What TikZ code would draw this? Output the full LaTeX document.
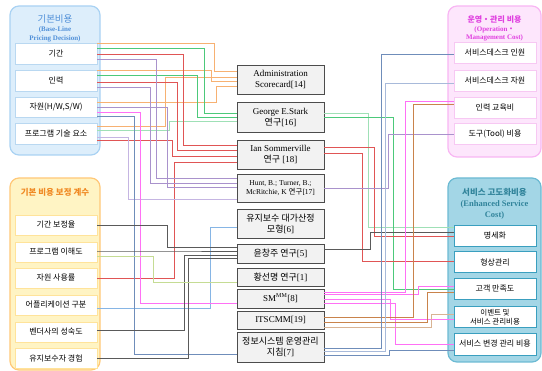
\documentclass[tikz,border=0pt]{standalone}
\usepackage{fontspec}
\setmainfont{Liberation Serif}
\newfontfamily\kr{Noto Sans CJK KR}
\usetikzlibrary{positioning,calc,shadows}

% group colours
\definecolor{basefill}{HTML}{DDEEFB}
\definecolor{baseedge}{HTML}{A9D2F3}
\definecolor{basetitle}{HTML}{4F8FD8}
\definecolor{baseitem}{HTML}{B9D8F1}
\definecolor{adjfill}{HTML}{FFF4C4}
\definecolor{adjedge}{HTML}{FFC878}
\definecolor{adjtitle}{HTML}{F08A24}
\definecolor{adjitem}{HTML}{FFE39A}
\definecolor{operfill}{HTML}{FDE6FC}
\definecolor{operedge}{HTML}{F8B6F3}
\definecolor{opertitle}{HTML}{E040E0}
\definecolor{operitem}{HTML}{F7C8F3}
\definecolor{enhfill}{HTML}{A3D6E6}
\definecolor{enhedge}{HTML}{6CBAD3}
\definecolor{enhtitle}{HTML}{31849B}
\definecolor{enhitem}{HTML}{3A9FBF}
% wire colours
\definecolor{corange}{HTML}{F7B172}
\definecolor{cgreen}{HTML}{4CC97A}
\definecolor{clgreen}{HTML}{9FE0B6}
\definecolor{cred}{HTML}{E05555}
\definecolor{cpurple}{HTML}{A992CC}
\definecolor{clpurple}{HTML}{C5B5E2}
\definecolor{cmagenta}{HTML}{FF70F5}
\definecolor{cslate}{HTML}{6F8DBA}
\definecolor{clslate}{HTML}{A8BADA}
\definecolor{cgray}{HTML}{5A5A5A}
\definecolor{clblue}{HTML}{86B5E5}
\definecolor{cygreen}{HTML}{C5DC94}
\definecolor{cbrown}{HTML}{C9834B}
\definecolor{ctan}{HTML}{D9B393}

\tikzset
{
    group/.style    = {rectangle, rounded corners=9pt, line width=1.2pt, minimum width=90pt},
    grouptitle/.style = {inner sep=0pt, align=center},
    subtitle/.style = {inner sep=0pt, align=center, font=\bfseries\fontsize{7}{9}\selectfont},
    itembox/.style  = {rectangle, draw=#1, fill=white, line width=0.8pt, minimum width=82pt, minimum height=21pt, inner sep=1pt, align=center, font=\kr\fontsize{8}{9}\selectfont},
    study/.style    = {rectangle, draw=black!70, fill=black!5, line width=0.8pt, minimum width=87pt, inner sep=1pt, align=center, drop shadow={shadow xshift=1pt, shadow yshift=-1pt, fill=black!30}, font=\fontsize{9}{11}\selectfont},
    wire/.style     = {line width=0.9pt}
}

% wire: colour, source, offset, x of the riser, target, offset
\newcommand\costwire[6]{%
    \coordinate (wp) at ($(#2.east)+(0,#3)$);
    \coordinate (wq) at ($(#5.west)+(0,#6)$);
    \coordinate (wx) at (#4,0);
    \draw[wire,#1] (wp) -- (wp -| wx) |- (wq);}

\begin{document}
\begin{tikzpicture}[x=1pt, y=-1pt]
    \useasboundingbox (0,0) rectangle (542,371);

    % groups
    \node[group, draw=baseedge, fill=basefill, minimum height=149pt] (gbase) at (55,80.5) {};
    \node[group, draw=adjedge, fill=adjfill, minimum height=192pt] (gadj) at (55,274) {};
    \node[group, draw=operedge, fill=operfill, minimum width=93pt, minimum height=151pt] (goper) at (494.5,81.5) {};
    \node[group, draw=enhedge, fill=enhfill, minimum width=93pt, minimum height=184pt] (genh) at (494.5,270) {};

    \node[grouptitle, text=basetitle, font=\kr\fontsize{9.5}{10}\selectfont] (tbase) at (55,19) {기본비용};
    \node[subtitle, text=basetitle] (sbase) at (55,34.5) {(Base-Line\\Pricing Decision)};
    \node[grouptitle, text=adjtitle, font=\kr\bfseries\fontsize{8.5}{9}\selectfont] (tadj) at (55,192) {기본 비용 보정 계수};
    \node[grouptitle, text=opertitle, font=\kr\bfseries\fontsize{8}{9}\selectfont] (toper) at (494.5,20) {운영・관리 비용};
    \node[subtitle, text=opertitle, font=\bfseries\fontsize{7}{8}\selectfont] (soper) at (494.5,34) {(Operation{\kr ・}\\Management Cost)};
    \node[grouptitle, text=enhtitle, font=\kr\bfseries\fontsize{8.5}{10}\selectfont] (tenh) at (494.5,192) {서비스 고도화비용};
    \node[subtitle, text=enhtitle, font=\bfseries\fontsize{8.5}{11}\selectfont] (senh) at (494.5,209.5) {(Enhanced Service\\Cost)};

    % base cost items
    \node[itembox=baseitem] (bperiod) at (56,54) {기간};
    \node[itembox=baseitem] (bstaff) at (56,81) {인력};
    \node[itembox=baseitem, minimum height=20pt] (bres) at (56,107) {자원(H/W,S/W)};
    \node[itembox=baseitem] (bprog) at (56,134) {프로그램 기술 요소};

    % adjustment items
    \node[itembox=adjitem, minimum height=20pt] (aperiod) at (56,225) {기간 보정율};
    \node[itembox=adjitem, minimum height=20pt] (aprog) at (56,252) {프로그램 이해도};
    \node[itembox=adjitem, minimum height=20pt] (ares) at (56,278) {자원 사용률};
    \node[itembox=adjitem, minimum height=20pt] (aapp) at (56,305) {어플리케이션 구분};
    \node[itembox=adjitem, minimum height=20pt] (avendor) at (56,332) {벤더사의 성숙도};
    \node[itembox=adjitem, minimum height=20pt] (aexp) at (56,358) {유지보수자 경험};

    % operation items
    \node[itembox=operitem] (odeskstaff) at (495,53) {서비스데스크 인원};
    \node[itembox=operitem] (odeskres) at (495,81) {서비스데스크 자원};
    \node[itembox=operitem] (otrain) at (495,108) {인력 교육비};
    \node[itembox=operitem] (otool) at (495,134) {도구(Tool) 비용};

    % enhancement items
    \node[itembox=enhitem] (espec) at (495,236) {명세화};
    \node[itembox=enhitem] (econf) at (495,262) {형상관리};
    \node[itembox=enhitem] (esat) at (495,289) {고객 만족도};
    \node[itembox=enhitem, font=\kr\fontsize{7.5}{8.5}\selectfont] (eevent) at (495,317) {이벤트 및\\서비스 관리비용};
    \node[itembox=enhitem, minimum height=22pt] (echange) at (495,344) {서비스 변경 관리 비용};

    % studies
    \node[study, minimum height=29pt] (adm) at (280.5,79.5) {Administration\\Scorecard[14]};
    \node[study, minimum height=30pt] (stark) at (280.5,117) {George E.Stark\\{\kr 연구}[16]};
    \node[study, minimum height=29pt] (somm) at (280.5,154.5) {Ian Sommerville\\{\kr 연구} [18]};
    \node[study, minimum height=28pt, font=\fontsize{7.5}{9.5}\selectfont] (hunt) at (280.5,188) {Hunt, B.; Turner, B.;\\McRitchie, K {\kr 연구}[17]};
    \node[study, minimum height=29pt] (maint) at (280.5,223.5) {{\kr 유지보수 대가산정}\\{\kr 모형}[6]};
    \node[study, minimum height=19pt] (yoon) at (280.5,253.5) {{\kr 윤창주 연구}[5]};
    \node[study, minimum height=18pt] (hwang) at (280.5,277) {{\kr 황선명 연구}[1]};
    \node[study, minimum height=19pt] (smmm) at (280.5,298.5) {SM\textsuperscript{MM}[8]};
    \node[study, minimum height=18pt] (itscmm) at (280.5,320) {ITSCMM[19]};
    \node[study, minimum height=30pt] (isop) at (280.5,347) {{\kr 정보시스템 운영관리}\\{\kr 지침}[7]};

    % left wires
    \costwire{corange}{bperiod}{-11}{214}{adm}{-8.5}
    \costwire{corange}{bstaff}{-11}{211}{adm}{1.5}
    \costwire{corange}{bres}{-5}{216}{adm}{6.5}
    \costwire{corange}{bprog}{-8}{165}{adm}{-2.5}
    \costwire{cgreen}{bperiod}{-6}{204}{stark}{-4}
    \costwire{cgreen}{bstaff}{-6}{197}{stark}{0}
    \costwire{clgreen}{bprog}{-4}{169}{stark}{4}
    \costwire{cred}{bperiod}{0}{183}{somm}{-9.5}
    \costwire{cred}{bstaff}{1}{177}{somm}{-4.5}
    \costwire{cred}{bprog}{6}{172}{somm}{1.5}
    \costwire{cred}{ares}{0}{174}{somm}{7.5}
    \costwire{cpurple}{bperiod}{5}{156}{hunt}{-10}
    \costwire{cpurple}{bstaff}{6}{150}{hunt}{-5}
    \costwire{cpurple}{bres}{0}{167}{hunt}{-1}
    \costwire{clpurple}{bprog}{3}{128}{hunt}{11}
    \costwire{clblue}{aapp}{3}{210}{maint}{3.5}
    \costwire{cmagenta}{bres}{5}{140}{smmm}{4.5}
    \costwire{cslate}{bres}{9}{134}{isop}{7}
    \costwire{cgray}{aperiod}{0}{167}{yoon}{-6.5}
    \costwire{cgray}{aprog}{-1}{167}{yoon}{-2.5}
    \costwire{cgray}{avendor}{-2}{184}{yoon}{1.5}
    \costwire{cgray}{aexp}{0}{188}{yoon}{4.5}
    \costwire{cygreen}{aprog}{4}{153}{hwang}{5}

    % right wires
    \costwire{clgreen}{stark}{-4}{368}{espec}{-9}
    \costwire{cgreen}{stark}{0}{393}{esat}{0}
    \costwire{cred}{somm}{-7.5}{374}{espec}{0}
    \costwire{cred}{somm}{-1.5}{362}{econf}{-1}
    \costwire{cgray}{yoon}{-4.5}{370}{espec}{-4}
    \costwire{cpurple}{hunt}{0}{388}{otool}{0}
    \costwire{cmagenta}{smmm}{-6.5}{405}{otrain}{-7}
    \costwire{cmagenta}{smmm}{-4.5}{418}{esat}{-3}
    \costwire{cmagenta}{smmm}{0.5}{390}{eevent}{2}
    \costwire{cmagenta}{smmm}{4.5}{395}{echange}{0}
    \costwire{cbrown}{itscmm}{-3}{413}{otrain}{-4}
    \costwire{cbrown}{itscmm}{2}{427}{esat}{3}
    \costwire{ctan}{itscmm}{7}{431}{eevent}{-3}
    \costwire{cslate}{isop}{1}{381}{odeskstaff}{1}
    \costwire{clslate}{isop}{4}{385}{odeskres}{2}
    \costwire{cslate}{isop}{8}{389}{echange}{6}
\end{tikzpicture}
\end{document}
